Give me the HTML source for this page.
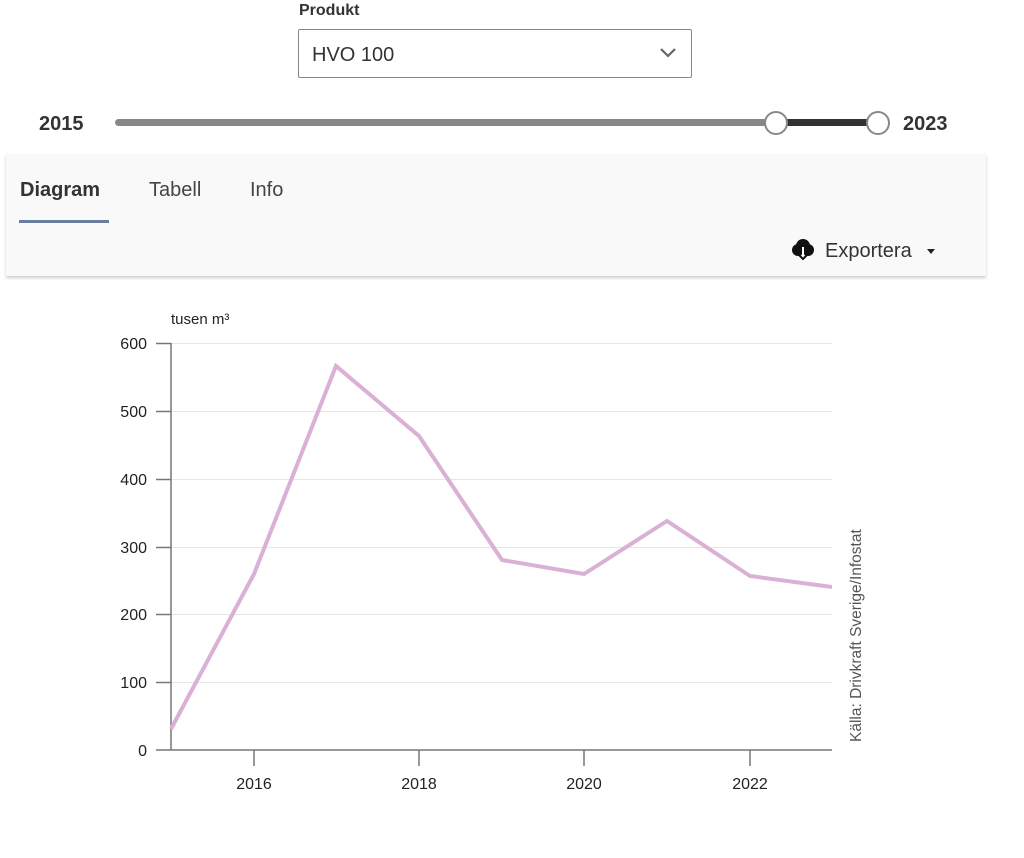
<!DOCTYPE html>
<html><head><meta charset="utf-8"><style>
body{margin:0;width:1024px;height:858px;background:#fff;font-family:"Liberation Sans",sans-serif;position:relative;overflow:hidden;color:#333}
.abs{position:absolute}
</style></head><body>
<div class="abs" style="left:299px;top:2px;font-size:16px;font-weight:bold;color:#333">Produkt</div>
<div class="abs" style="left:298px;top:29px;width:394px;height:49px;border:1px solid #888;border-radius:2px;box-sizing:border-box"></div>
<div class="abs" style="left:312px;top:44px;font-size:20px;color:#333">HVO 100</div>
<svg class="abs" style="left:658px;top:46px" width="20" height="14"><polyline points="3,3 10,10 17,3" fill="none" stroke="#666" stroke-width="2.2"/></svg>
<div class="abs" style="left:39px;top:113px;font-size:20px;font-weight:bold;color:#333">2015</div>
<div class="abs" style="left:903px;top:113px;font-size:20px;font-weight:bold;color:#333">2023</div>
<div class="abs" style="left:115px;top:119px;width:662px;height:7px;background:#888;border-radius:4px"></div>
<div class="abs" style="left:777px;top:119px;width:100px;height:7px;background:#333"></div>
<div class="abs" style="left:764px;top:111px;width:20px;height:20px;border:2.5px solid #888;border-radius:50%;background:#fff"></div>
<div class="abs" style="left:866px;top:111px;width:20px;height:20px;border:2.5px solid #888;border-radius:50%;background:#fff"></div>
<div class="abs" style="left:6px;top:154px;width:980px;height:122px;background:#f8f9f8;box-shadow:0 2px 3px rgba(0,0,0,0.2)"></div>
<div class="abs" style="left:20px;top:179px;font-size:20px;font-weight:bold;color:#333">Diagram</div>
<div class="abs" style="left:149px;top:179px;font-size:20px;color:#444">Tabell</div>
<div class="abs" style="left:250px;top:179px;font-size:20px;color:#444">Info</div>
<div class="abs" style="left:19px;top:220px;width:90px;height:3px;background:#6a7fa0"></div>
<svg class="abs" style="left:790px;top:238px" width="26" height="26"><circle cx="8" cy="12" r="6" fill="#111"/><circle cx="18" cy="12" r="6" fill="#111"/><circle cx="13" cy="8" r="7" fill="#111"/><line x1="13" y1="9" x2="13" y2="22" stroke="#fff" stroke-width="2"/><polyline points="9,17 13,21 17,17" fill="none" stroke="#111" stroke-width="2"/></svg>
<div class="abs" style="left:825px;top:240px;font-size:20px;color:#333">Exportera</div>
<svg class="abs" style="left:927px;top:248px" width="10" height="8"><polygon points="0,1 8,1 4,6" fill="#222"/></svg>
<svg class="abs" style="left:0;top:0" width="1024" height="858" font-family="Liberation Sans, sans-serif">
<text x="171" y="324" font-size="15" fill="#222">tusen m³</text>
<g stroke="#e6e6e6" stroke-width="1">
<line x1="171" x2="832" y1="343.5" y2="343.5"/><line x1="171" x2="832" y1="411.5" y2="411.5"/><line x1="171" x2="832" y1="479.5" y2="479.5"/><line x1="171" x2="832" y1="547.5" y2="547.5"/><line x1="171" x2="832" y1="614.5" y2="614.5"/><line x1="171" x2="832" y1="682.5" y2="682.5"/>
</g>
<g stroke="#777" stroke-width="1.5">
<line x1="171" x2="171" y1="343" y2="750"/><line x1="156" x2="832" y1="750" y2="750"/>
<line x1="156" x2="171" y1="343.5" y2="343.5"/><line x1="156" x2="171" y1="411.5" y2="411.5"/><line x1="156" x2="171" y1="479.5" y2="479.5"/><line x1="156" x2="171" y1="547.5" y2="547.5"/><line x1="156" x2="171" y1="614.5" y2="614.5"/><line x1="156" x2="171" y1="682.5" y2="682.5"/>
<line x1="254" x2="254" y1="750" y2="766"/><line x1="419" x2="419" y1="750" y2="766"/><line x1="584" x2="584" y1="750" y2="766"/><line x1="750" x2="750" y1="750" y2="766"/>
</g>
<g font-size="16" fill="#222" text-anchor="end">
<text x="147" y="349">600</text><text x="147" y="417">500</text><text x="147" y="485">400</text><text x="147" y="553">300</text><text x="147" y="620">200</text><text x="147" y="688">100</text><text x="147" y="756">0</text>
</g>
<g font-size="16" fill="#222" text-anchor="middle">
<text x="254" y="789">2016</text><text x="419" y="789">2018</text><text x="584" y="789">2020</text><text x="750" y="789">2022</text>
</g>
<polyline points="171,729 254,574 336,366 419,436 502,560 584,574 667,521 750,576 832,587" fill="none" stroke="#dbb0d6" stroke-width="4" stroke-linejoin="miter"/>
<text transform="translate(861,742) rotate(-90)" font-size="15.5" fill="#555">Källa: Drivkraft Sverige/Infostat</text>
</svg>
</body></html>
